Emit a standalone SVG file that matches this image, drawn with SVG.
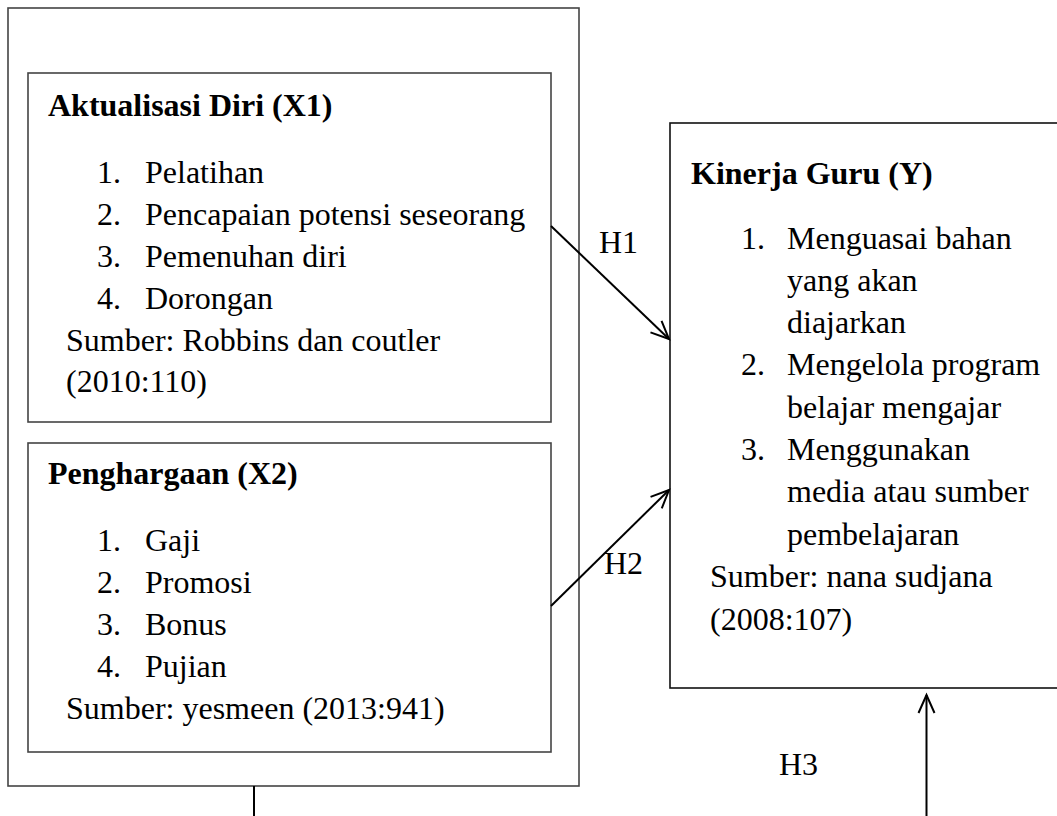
<svg xmlns="http://www.w3.org/2000/svg" width="1057" height="816" viewBox="0 0 1057 816">
<defs>
<style>
.box{fill:none;stroke:#444;stroke-width:1.6}
.kbox{fill:none;stroke:#111;stroke-width:1.6}
text{font-family:"Liberation Serif","Times New Roman",serif;font-size:32px;fill:#000}
.b{font-weight:bold}
.conn{fill:none;stroke:#000;stroke-width:2}
</style>
<marker id="ah" markerWidth="24" markerHeight="24" refX="20" refY="10" orient="auto" markerUnits="userSpaceOnUse" viewBox="0 0 24 20">
<path d="M2,2 L20,10 L2,18" fill="none" stroke="#000" stroke-width="2"/>
</marker>
</defs>
<rect width="1057" height="816" fill="#fff"/>
<g id="outer"><rect class="box" x="8" y="8" width="571" height="778"/></g>
<g id="x1">
<rect class="box" x="28" y="73" width="523" height="349"/>
<text class="b" x="48" y="116">Aktualisasi Diri (X1)</text>
<text x="97" y="183">1.</text><text x="145" y="183">Pelatihan</text>
<text x="97" y="225">2.</text><text x="145" y="225">Pencapaian potensi seseorang</text>
<text x="97" y="267">3.</text><text x="145" y="267">Pemenuhan diri</text>
<text x="97" y="309">4.</text><text x="145" y="309">Dorongan</text>
<text x="66" y="351">Sumber: Robbins dan coutler</text>
<text x="66" y="392">(2010:110)</text>
</g>
<g id="x2">
<rect class="box" x="28" y="443" width="523" height="309"/>
<text class="b" x="48" y="484">Penghargaan (X2)</text>
<text x="97" y="551">1.</text><text x="145" y="551">Gaji</text>
<text x="97" y="593">2.</text><text x="145" y="593">Promosi</text>
<text x="97" y="635">3.</text><text x="145" y="635">Bonus</text>
<text x="97" y="677">4.</text><text x="145" y="677">Pujian</text>
<text x="66" y="719">Sumber: yesmeen (2013:941)</text>
</g>
<g id="y">
<rect class="kbox" x="670" y="123" width="400" height="565"/>
<text class="b" x="691" y="184">Kinerja Guru (Y)</text>
<text x="741" y="249">1.</text><text x="787" y="249">Menguasai bahan</text>
<text x="787" y="291">yang akan</text>
<text x="787" y="333">diajarkan</text>
<text x="741" y="375">2.</text><text x="787" y="375">Mengelola program</text>
<text x="787" y="418">belajar mengajar</text>
<text x="741" y="460">3.</text><text x="787" y="460">Menggunakan</text>
<text x="787" y="502">media atau sumber</text>
<text x="787" y="545">pembelajaran</text>
<text x="710" y="587">Sumber: nana sudjana</text>
<text x="710" y="630">(2008:107)</text>
</g>
<g id="connectors">
<line class="conn" x1="551" y1="226" x2="669" y2="339" marker-end="url(#ah)"/>
<line class="conn" x1="551" y1="606" x2="669" y2="490" marker-end="url(#ah)"/>
<line class="conn" x1="926.5" y1="816" x2="926.5" y2="695" marker-end="url(#ah)"/>
<line class="conn" x1="254" y1="786" x2="254" y2="816"/>
<text x="599" y="253">H1</text>
<text x="604" y="574">H2</text>
<text x="779" y="775">H3</text>
</g>
</svg>
